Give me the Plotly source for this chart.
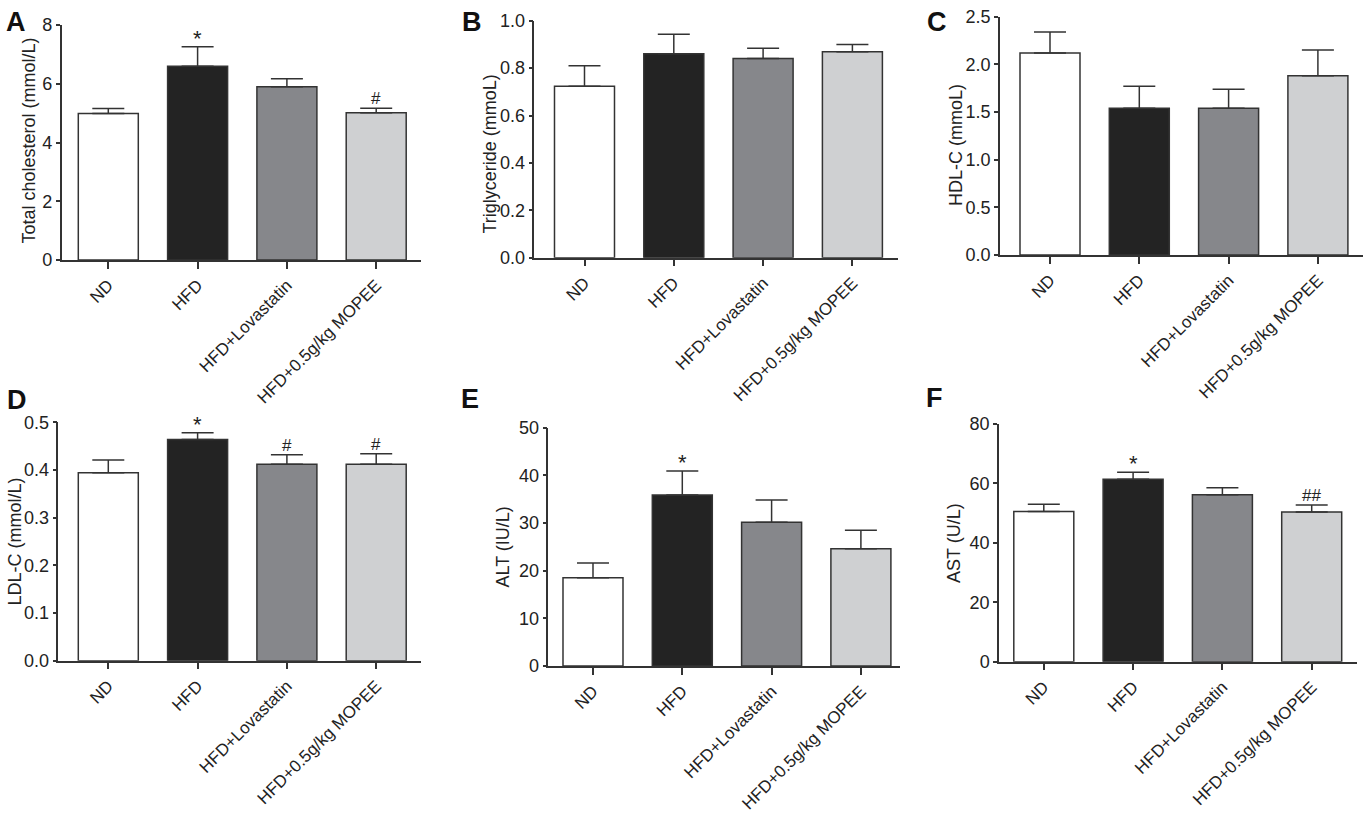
import plotly.graph_objects as go

W, H = 1371, 813
FONT = "Liberation Sans, Arial, sans-serif"
INK = "#333333"

groups = ["ND", "HFD", "HFD+Lovastatin", "HFD+0.5g/kg MOPEE"]
bar_colors = ["#ffffff", "#232323", "#86878b", "#cfd0d2"]

# valeurs (moyenne, erreur haute)
total_chol = [4.99, 6.60, 5.90, 5.01]
total_chol_err = [0.17, 0.66, 0.27, 0.16]
total_chol_sig = ["", "*", "", "#"]

triglyceride = [0.723, 0.861, 0.840, 0.869]
triglyceride_err = [0.087, 0.082, 0.044, 0.031]
triglyceride_sig = ["", "", "", ""]

hdl = [2.12, 1.54, 1.54, 1.88]
hdl_err = [0.22, 0.23, 0.20, 0.27]
hdl_sig = ["", "", "", ""]

ldl = [0.394, 0.464, 0.412, 0.412]
ldl_err = [0.027, 0.014, 0.020, 0.022]
ldl_sig = ["", "*", "#", "#"]

alt = [18.5, 35.9, 30.15, 24.6]
alt_err = [3.1, 5.0, 4.7, 3.9]
alt_sig = ["", "*", "", ""]

ast = [50.5, 61.3, 56.1, 50.3]
ast_err = [2.45, 2.35, 2.35, 2.4]
ast_sig = ["", "*", "", "##"]

# mise en page des panneaux (pixels) : axe y, centre 1re barre, fin axe x, haut, bas
panels = [
    dict(letter="A", title="Total cholesterol (mmol/L)", vals=total_chol, err=total_chol_err, sig=total_chol_sig,
         ymax=8, dtick=2, fmt="d", ax=61.7, c0=108.3, right=421, top=25, bottom=260,
         letter_xy=(15.5, 22.5), title_xy=(28.5, 141)),
    dict(letter="B", title="Triglyceride (mmoL)", vals=triglyceride, err=triglyceride_err, sig=triglyceride_sig,
         ymax=1.0, dtick=0.2, fmt=".1f", ax=534.3, c0=584.5, right=898, top=20.7, bottom=257.7,
         letter_xy=(472, 22.5), title_xy=(489.5, 154)),
    dict(letter="C", title="HDL-C (mmoL)", vals=hdl, err=hdl_err, sig=hdl_sig,
         ymax=2.5, dtick=0.5, fmt=".1f", ax=1000, c0=1050, right=1363, top=16.7, bottom=255,
         letter_xy=(937, 22), title_xy=(956, 145)),
    dict(letter="D", title="LDL-C (mmol/L)", vals=ldl, err=ldl_err, sig=ldl_sig,
         ymax=0.5, dtick=0.1, fmt=".1f", ax=58.3, c0=108.3, right=421, top=422.3, bottom=660.7,
         letter_xy=(17, 400), title_xy=(14, 541.5)),
    dict(letter="E", title="ALT (IU/L)", vals=alt, err=alt_err, sig=alt_sig,
         ymax=50, dtick=10, fmt="d", ax=548.3, c0=593, right=900, top=427.7, bottom=666,
         letter_xy=(470, 399), title_xy=(502.5, 547)),
    dict(letter="F", title="AST (U/L)", vals=ast, err=ast_err, sig=ast_sig,
         ymax=80, dtick=20, fmt="d", ax=999, c0=1043.8, right=1356.7, top=423.7, bottom=661.7,
         letter_xy=(935, 398), title_xy=(953.5, 543.5)),
]

SPACING = 89.3
BAR_W = 60 / SPACING

fig = go.Figure()
annotations = []

for i, p in enumerate(panels):
    n = "" if i == 0 else str(i + 1)
    xa, ya = "x" + n, "y" + n

    fig.add_trace(go.Bar(
        x=groups, y=p["vals"], width=BAR_W,
        marker=dict(color=bar_colors, line=dict(color=INK, width=1.5)),
        error_y=dict(type="data", symmetric=False, array=p["err"], arrayminus=[0] * len(p["err"]),
                     color=INK, thickness=1.5, width=16),
        xaxis=xa, yaxis=ya, showlegend=False, hoverinfo="x+y",
    ))

    r0 = -(p["c0"] - p["ax"]) / SPACING
    r1 = (p["right"] - p["c0"]) / SPACING
    axis_style = dict(showline=True, linecolor=INK, linewidth=1.5, ticks="outside",
                      tickwidth=1.5, tickcolor=INK, showgrid=False, zeroline=False, automargin=False)
    fig.update_layout(**{
        "xaxis" + n: dict(axis_style, domain=[p["ax"] / W, p["right"] / W], range=[r0, r1],
                          anchor=ya, tickangle=-45, type="category", ticklen=7,
                          tickfont=dict(family=FONT, size=17, color="#222222")),
        "yaxis" + n: dict(axis_style, domain=[1 - p["bottom"] / H, 1 - p["top"] / H], ticklen=4,
                          range=[0, p["ymax"]], dtick=p["dtick"], tickformat=p["fmt"], anchor=xa,
                          tickfont=dict(family=FONT, size=18, color="#222222")),
    })

    # étoiles / dièses au-dessus des barres d'erreur
    for g, v, e, s in zip(groups, p["vals"], p["err"], p["sig"]):
        if s:
            star = s == "*"
            annotations.append(dict(x=g, y=v + e, xref=xa, yref=ya, text=s, showarrow=False,
                                    yanchor="bottom", yshift=-6 if star else -2,
                                    font=dict(family=FONT, size=22 if star else 17, color="#222222")))

    lx, ly = p["letter_xy"]
    annotations.append(dict(x=lx / W, y=1 - ly / H, xref="paper", yref="paper", text="<b>%s</b>" % p["letter"],
                            showarrow=False, xanchor="center", yanchor="middle",
                            font=dict(family=FONT, size=27, color="#111111")))
    tx, ty = p["title_xy"]
    annotations.append(dict(x=tx / W, y=1 - ty / H, xref="paper", yref="paper", text=p["title"],
                            showarrow=False, xanchor="center", yanchor="middle", textangle=-90,
                            font=dict(family=FONT, size=18, color="#222222")))

fig.update_layout(
    width=W, height=H,
    margin=dict(l=0, r=0, t=0, b=0),
    paper_bgcolor="white", plot_bgcolor="white",
    annotations=annotations,
    font=dict(family=FONT, color="#222222"),
)

# pas de marge autour du graphique dans la page
fig.write_html("out.html", post_script="document.body.style.margin='0';",
               config={"displayModeBar": False})
